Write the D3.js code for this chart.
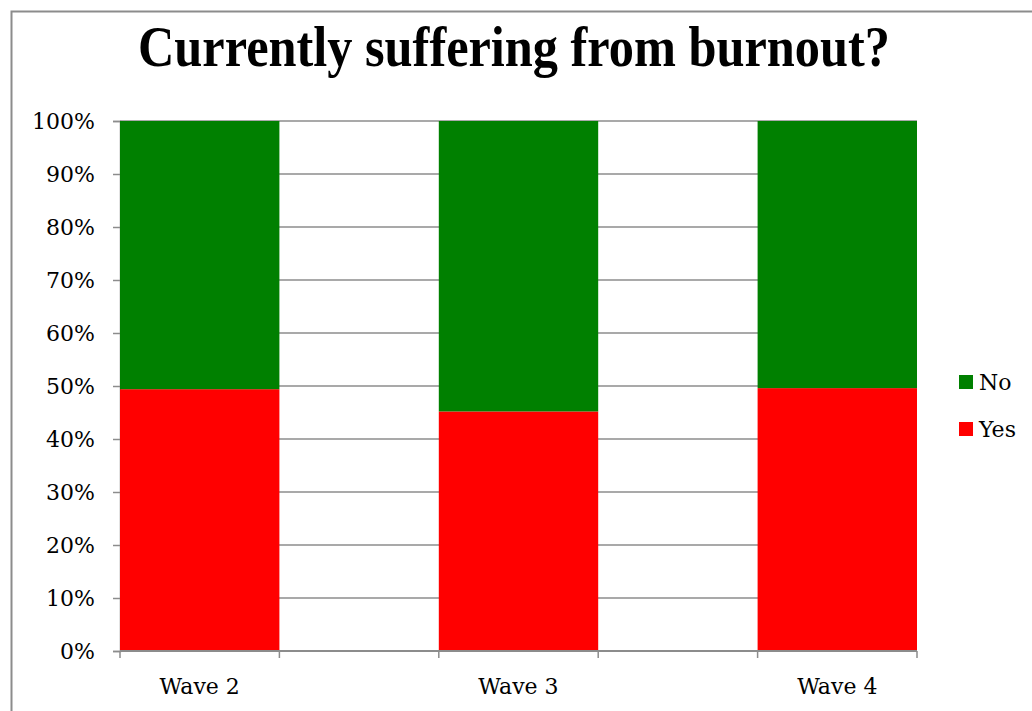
<!DOCTYPE html>
<html>
<head>
<meta charset="utf-8">
<script src="https://cdn.jsdelivr.net/npm/d3@7"></script>
<style>
  body { margin: 0; background: #fff; }
  text { font-family: "DejaVu Serif", "Liberation Serif", serif; }
</style>
</head>
<body>
<script>
'use strict';

// chart data
const waves = ["Wave 2", "Wave 3", "Wave 4"];
const yesValues = [49.4, 45.2, 49.6];
const noValues = [50.6, 54.8, 50.4];
const seriesNames = ["No", "Yes"];
const seriesColors = ["#008000", "#ff0000"];
const yTicks = [0, 10, 20, 30, 40, 50, 60, 70, 80, 90, 100];

const svg = d3.select('body').append('svg')
  .attr('width', 1032)
  .attr('height', 711);

// outer chart border (only top and left show in frame)
svg.append('path')
  .attr('d', 'M11.5,711 V11.5 H1032')
  .attr('fill', 'none')
  .attr('stroke', '#8c8c8c')
  .attr('stroke-width', 2);

// title
svg.append('text')
  .attr('x', 514)
  .attr('y', 66)
  .attr('text-anchor', 'middle')
  .attr('textLength', 752)
  .attr('lengthAdjust', 'spacingAndGlyphs')
  .style('font-family', '"Liberation Serif", serif')
  .style('font-size', '57px')
  .style('font-weight', 'bold')
  .text('Currently suffering from burnout?');

// scales
const xScale = d3.scaleBand()
  .domain(waves)
  .range([120, 917])
  .paddingInner(0.5)
  .paddingOuter(0);

const yScale = d3.scaleLinear()
  .domain([0, 100])
  .range([651, 121]);

// gridlines
svg.append('g')
  .selectAll('line')
  .data(yTicks.filter(d => d > 0))
  .enter()
  .append('line')
  .attr('x1', 120)
  .attr('x2', 917)
  .attr('y1', d => yScale(d))
  .attr('y2', d => yScale(d))
  .attr('stroke', '#8c8c8c')
  .attr('stroke-width', 1.5);

// y axis
let yAxis = d3.axisLeft(yScale)
  .tickValues(yTicks)
  .tickFormat(d => d + '%')
  .tickSize(7)
  .tickPadding(18);
let yG = svg.append('g')
  .attr('transform', 'translate(120,0)')
  .call(yAxis);
yG.select('.domain').attr('stroke', '#8c8c8c').attr('stroke-width', 1.5);
yG.selectAll('.tick line').attr('stroke', '#8c8c8c').attr('stroke-width', 1.5);
yG.selectAll('.tick text')
  .attr('fill', '#000')
  .style('font-size', '22px')
  .style('font-family', '"DejaVu Serif", serif');

// stacked bars
const rows = waves.map((w, i) => ({ wave: w, Yes: yesValues[i], No: noValues[i] }));
const stack = d3.stack().keys(["Yes", "No"])(rows);
const colorOf = { Yes: seriesColors[1], No: seriesColors[0] };

stack.forEach(layer => {
  svg.append('g')
    .selectAll('rect')
    .data(layer)
    .enter()
    .append('rect')
    .attr('x', d => xScale(d.data.wave))
    .attr('y', d => yScale(d[1]))
    .attr('width', xScale.bandwidth())
    .attr('height', d => yScale(d[0]) - yScale(d[1]))
    .attr('fill', colorOf[layer.key]);
});

// x axis line and ticks at bar edges
svg.append('line')
  .attr('x1', 120).attr('x2', 917)
  .attr('y1', yScale(0)).attr('y2', yScale(0))
  .attr('stroke', '#8c8c8c')
  .attr('stroke-width', 2);

const edges = [];
waves.forEach(w => { edges.push(xScale(w)); edges.push(xScale(w) + xScale.bandwidth()); });
svg.append('g')
  .selectAll('line')
  .data(edges)
  .enter()
  .append('line')
  .attr('x1', d => d).attr('x2', d => d)
  .attr('y1', yScale(0)).attr('y2', yScale(0) + 7)
  .attr('stroke', '#8c8c8c')
  .attr('stroke-width', 1.5);

svg.append('g')
  .selectAll('text')
  .data(waves)
  .enter()
  .append('text')
  .attr('x', d => xScale(d) + xScale.bandwidth() / 2)
  .attr('y', 694)
  .attr('text-anchor', 'middle')
  .style('font-size', '22px')
  .text(d => d);

// legend
const legend = svg.append('g')
  .selectAll('g')
  .data(seriesNames)
  .enter()
  .append('g')
  .attr('transform', (d, i) => 'translate(959,' + (375 + i * 47) + ')');

legend.append('rect')
  .attr('width', 14)
  .attr('height', 14)
  .attr('fill', (d, i) => seriesColors[i]);

legend.append('text')
  .attr('x', 20)
  .attr('y', 15)
  .style('font-size', '22px')
  .text(d => d);
</script>
</body>
</html>
